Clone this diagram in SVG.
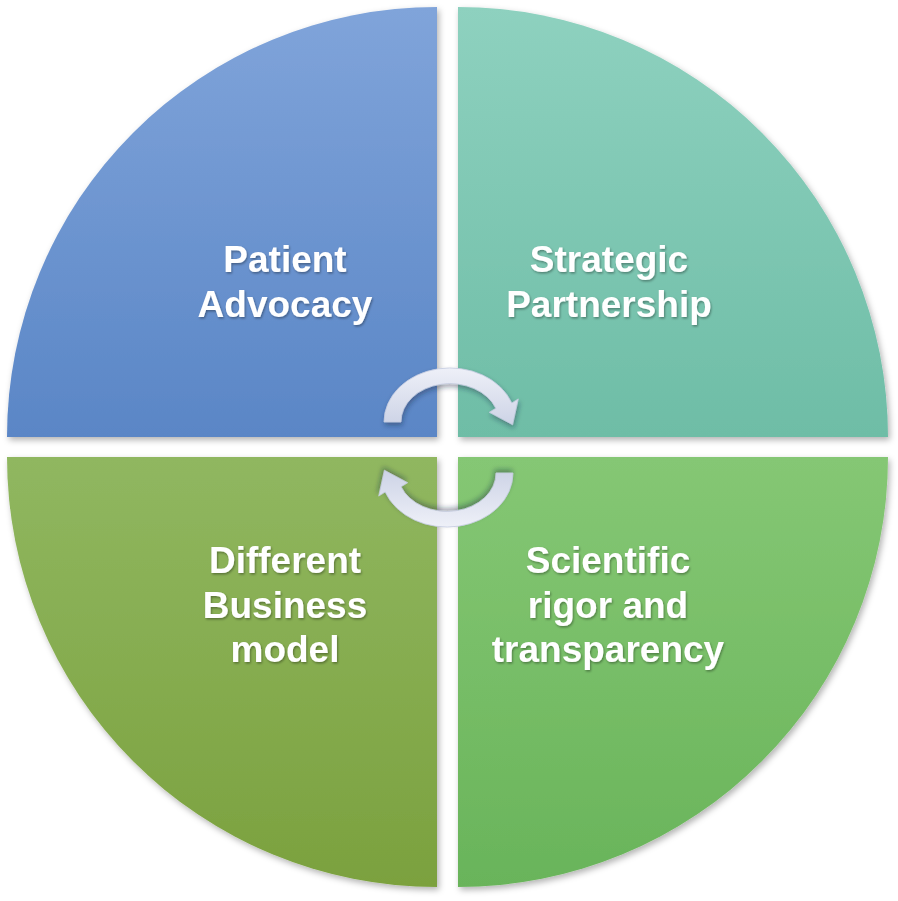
<svg xmlns="http://www.w3.org/2000/svg" width="898" height="901" viewBox="0 0 898 901">
<defs>
<linearGradient id="gBlue" x1="0" y1="0" x2="0" y2="1"><stop offset="0" stop-color="#80A4DA"/><stop offset="1" stop-color="#5A86C6"/></linearGradient>
<linearGradient id="gTeal" x1="0" y1="0" x2="0" y2="1"><stop offset="0" stop-color="#8ED1BF"/><stop offset="1" stop-color="#6EBDA6"/></linearGradient>
<linearGradient id="gOlive" x1="0" y1="0" x2="0" y2="1"><stop offset="0" stop-color="#90B760"/><stop offset="1" stop-color="#7BA13E"/></linearGradient>
<linearGradient id="gGreen" x1="0" y1="0" x2="0" y2="1"><stop offset="0" stop-color="#85C774"/><stop offset="1" stop-color="#69B45A"/></linearGradient>
<linearGradient id="gArrow" x1="0" y1="0" x2="0" y2="1"><stop offset="0" stop-color="#EEF0F8"/><stop offset="1" stop-color="#CDD3E6"/></linearGradient>
<filter id="shadow" x="-5%" y="-5%" width="112%" height="112%"><feDropShadow dx="2" dy="3" stdDeviation="3" flood-color="#000" flood-opacity="0.3"/></filter>
<filter id="ashadow" x="-20%" y="-20%" width="140%" height="150%"><feDropShadow dx="1" dy="3" stdDeviation="2.5" flood-color="#1a2a40" flood-opacity="0.4"/></filter>
<filter id="tshadow" x="-10%" y="-20%" width="120%" height="150%"><feDropShadow dx="1" dy="1.5" stdDeviation="1" flood-color="#000" flood-opacity="0.35"/></filter>
</defs>
<style>
.lbl{font-family:"Liberation Sans",Arial,sans-serif;font-weight:700;font-size:37px;fill:#FFFFFF;text-anchor:middle;filter:url(#tshadow)}
.q{filter:url(#shadow)}
.arrow{fill:url(#gArrow);stroke:#C3CADF;stroke-width:0.8;filter:url(#ashadow)}
</style>
<rect width="898" height="901" fill="#FFFFFF"/>
<g id="patient-advocacy">
<path class="q" d="M437,437 L7,437 A430,430 0 0 1 437,7 Z" fill="url(#gBlue)"/>
<text class="lbl" x="285" y="272">Patient</text>
<text class="lbl" x="285" y="317">Advocacy</text>
</g>
<g id="strategic-partnership">
<path class="q" d="M458,437 L458,7 A430,430 0 0 1 888,437 Z" fill="url(#gTeal)"/>
<text class="lbl" x="609" y="272">Strategic</text>
<text class="lbl" x="609" y="317">Partnership</text>
</g>
<g id="different-business-model">
<path class="q" d="M437,457 L437,887 A430,430 0 0 1 7,457 Z" fill="url(#gOlive)"/>
<text class="lbl" x="285" y="573">Different</text>
<text class="lbl" x="285" y="618">Business</text>
<text class="lbl" x="285" y="662">model</text>
</g>
<g id="scientific-rigor">
<path class="q" d="M458,457 L888,457 A430,430 0 0 1 458,887 Z" fill="url(#gGreen)"/>
<text class="lbl" x="608" y="573">Scientific</text>
<text class="lbl" x="608" y="618">rigor and</text>
<text class="lbl" x="608" y="662">transparency</text>
</g>
<g id="connectors">
<path id="arrow-top" class="arrow" d="M384,422 A66,54 0 0 1 511.8,403 L518.3,398.9 L512.6,424.7 L489.3,412.3 L495.9,408.3 A49,38 0 0 0 401,422 Z"/>
<path id="arrow-bottom" class="arrow" transform="rotate(180 448.5 447.5)" d="M384,422 A66,54 0 0 1 511.8,403 L518.3,398.9 L512.6,424.7 L489.3,412.3 L495.9,408.3 A49,38 0 0 0 401,422 Z"/>
</g>
</svg>
